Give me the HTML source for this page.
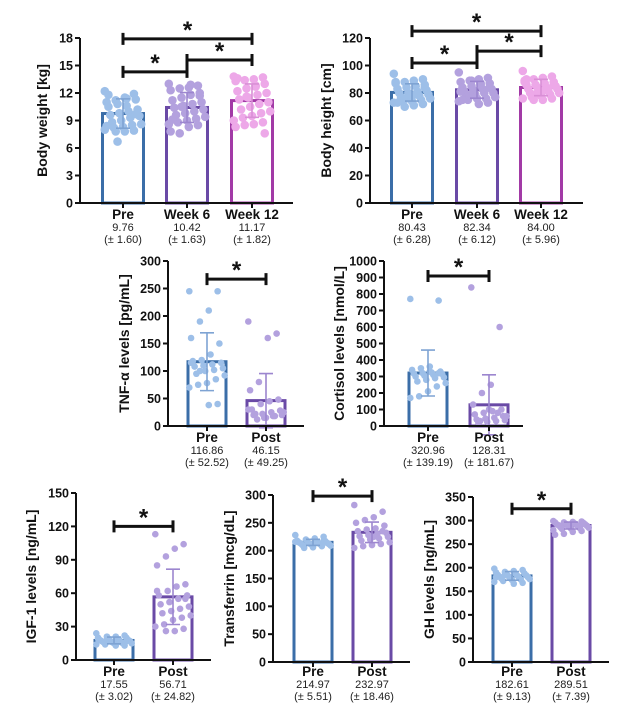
<!DOCTYPE html>
<html><head><meta charset="utf-8">
<style>
html,body{margin:0;padding:0;background:#fff;}
svg{display:block;font-family:"Liberation Sans",Arial,sans-serif;}
</style></head>
<body>
<svg id="fig" width="640" height="719" viewBox="0 0 640 719" xmlns="http://www.w3.org/2000/svg"></svg>
<script>
// ---- data ----
const bwCategories = ["Pre","Week 6","Week 12"];
const bwMeans = [9.76,10.42,11.17];
const bwSD = [1.60,1.63,1.82];
const bwPre = [12.2,11.9,11.5,11.2,11.0,11.3,11.4,10.8,10.5,10.2,10.0,9.8,9.6,9.5,9.3,9.0,8.8,8.6,8.5,8.3,8.2,8.0,7.9,7.8,7.8,8.4,9.7,10.6,6.7,11.8];
const bwW6 = [13.0,12.8,12.6,12.5,12.3,12.0,11.8,11.5,11.2,11.0,10.8,10.6,10.4,10.2,10.0,9.8,9.6,9.4,9.2,9.0,8.8,8.6,8.5,8.3,7.6,7.8,11.7,12.9,10.5,9.1];
const bwW12 = [13.8,13.7,13.5,13.4,13.3,13.0,12.8,12.5,12.2,12.0,11.8,11.5,11.3,11.0,10.8,10.5,10.2,10.0,9.8,9.5,9.3,9.0,8.8,8.6,8.5,8.3,7.6,12.7,11.6,13.6];
const bwTicks = [0,3,6,9,12,15,18];

const bhMeans = [80.43,82.34,84.00];
const bhSD = [6.28,6.12,5.96];
const bhPre = [94,90,89,88,87,86,85,84,83,82,81,80,80,79,78,78,77,76,75,74,74,73,72,71,70,88,84,79,76,73];
const bhW6 = [95,91,90,89,88,87,86,85,84,83,83,82,81,80,80,79,78,77,76,76,75,74,73,72,78,81,84,87,89,75];
const bhW12 = [96,92,91,90,89,88,87,86,86,85,84,84,83,83,82,81,80,80,79,78,77,76,76,75,75,88,86,82,79,90];
const bhTicks = [0,20,40,60,80,100,120];

const ppCategories = ["Pre","Post"];
const tnfMeans = [116.86,46.15];
const tnfSD = [52.52,49.25];
const tnfPre = [245,245,210,190,160,150,130,120,118,115,112,110,108,105,102,100,95,92,85,78,75,70,40,38,100,115];
const tnfPost = [190,168,160,80,65,48,45,40,30,28,25,22,20,20,18,15,22,25,18,15,12,30];
const tnfTicks = [0,50,100,150,200,250,300];

const cortMeans = [320.96,128.31];
const cortSD = [139.19,181.67];
const cortPre = [770,760,360,350,340,330,325,320,318,315,310,305,300,295,290,280,270,260,240,210,180,170,320,330];
const cortPost = [840,600,250,200,130,100,90,80,70,60,50,45,40,35,30,25,20,60,80,100,30];
const cortTicks = [0,100,200,300,400,500,600,700,800,900,1000];

const igfMeans = [17.55,56.71];
const igfSD = [3.02,24.82];
const igfPre = [24,22,21,21,20,20,19,19,18,18,18,17,17,17,16,16,16,15,15,15,14,14,13,13,18,19,17,16];
const igfPost = [113,104,100,93,85,68,66,62,58,58,55,52,50,48,46,44,42,40,38,36,32,30,28,26,26,62,55];
const igfTicks = [0,30,60,90,120,150];

const tfMeans = [214.97,232.97];
const tfSD = [5.51,18.46];
const tfPre = [228,225,222,220,218,217,216,215,215,214,214,213,213,212,212,211,210,209,208,206,205,216,218,214];
const tfPost = [282,270,260,255,250,245,240,238,235,232,230,228,226,225,222,220,218,215,212,210,208,205,235,225];
const tfTicks = [0,50,100,150,200,250,300];

const ghMeans = [182.61,289.51];
const ghSD = [9.13,7.39];
const ghPre = [198,195,193,191,190,188,187,186,185,184,183,182,181,180,179,178,177,176,175,174,172,170,168,166,185,180];
const ghPost = [299,298,297,296,296,295,294,293,292,292,291,290,290,289,288,287,286,285,284,283,282,280,278,276,272,270,293];
const ghTicks = [0,50,100,150,200,250,300,350];

// ---- rendering ----
const NS = "http://www.w3.org/2000/svg";
const svg = document.getElementById("fig");
const STROKES = ["#3b6ea8","#6a4aa6","#a23aa6"];
const DOTS = ["#9dbfe8","#b3a1de","#eda8e8"];
const ERRS = ["#7ea3d3","#9c86cf","#d98fd6"];
function mk(tag, attrs, parent){
  const e = document.createElementNS(NS, tag);
  for (const k in attrs) e.setAttribute(k, attrs[k]);
  (parent||svg).appendChild(e);
  return e;
}
function panel(cfg){
  const g = mk("g", {});
  
  
  const max = cfg.ticks[cfg.ticks.length-1];
  const y = v => cfg.yBot - (v/max)*(cfg.yBot-cfg.yTop);
  const hw = cfg.barW/2;
  cfg.groups.forEach((vals,i)=>{
    const cx = cfg.centers[i];
    const bar = mk("rect",{x:cx-hw,y:y(cfg.means[i]),width:cfg.barW,height:cfg.yBot-y(cfg.means[i]),fill:"#fff",stroke:STROKES[i],"stroke-width":3},g);
    
    
    vals.forEach((v,j)=>{
      const off = (((j*37)%21)-10)/10*(hw-cfg.r+2);
      const d = mk("circle",{cx:cx+off,cy:y(v),r:cfg.r,fill:DOTS[i]},g);
      
      
    });
    const lo=y(cfg.means[i]-cfg.sd[i]), hi=y(cfg.means[i]+cfg.sd[i]);
    const eb = mk("path",{d:`M${cx},${lo}V${hi}M${cx-7},${lo}H${cx+7}M${cx-7},${hi}H${cx+7}`,stroke:ERRS[i],"stroke-width":1.6,fill:"none"},g);
    
    
  });
  const ax = mk("path",{d:`M${cfg.axX},${cfg.yTop}V${cfg.yBot}H${cfg.xEnd}`,stroke:"#111","stroke-width":2,fill:"none"},g);
  
  
  cfg.ticks.forEach(t=>{
    mk("line",{x1:cfg.axX-5,x2:cfg.axX,y1:y(t),y2:y(t),stroke:"#111","stroke-width":2},g);
    const tl = mk("text",{x:cfg.axX-7,y:y(t)+4.5,"text-anchor":"end","font-size":12.5,"font-weight":"bold",fill:"#111"},g);
    tl.textContent = t;
    
    
  });
  cfg.centers.forEach((cx,i)=>{
    mk("line",{x1:cx,x2:cx,y1:cfg.yBot,y2:cfg.yBot+5,stroke:"#111","stroke-width":2},g);
    const c = mk("text",{x:cx,y:cfg.labY+5,"text-anchor":"middle","font-size":13.5,"font-weight":"bold",fill:"#111"},g);
    c.textContent = cfg.cats[i];
    
    
    const m = mk("text",{x:cx,y:cfg.labY+17,"text-anchor":"middle","font-size":11,fill:"#222"},g);
    m.textContent = cfg.means[i].toFixed(2);
    
    
    const s = mk("text",{x:cx,y:cfg.labY+29,"text-anchor":"middle","font-size":11,fill:"#222"},g);
    s.textContent = "(\u00b1 " + cfg.sd[i].toFixed(2) + ")";
    
    
  });
  const midY = (cfg.yTop+cfg.yBot)/2;
  const tt = mk("text",{x:0,y:0,transform:`translate(${cfg.titleX},${midY}) rotate(-90)`,"text-anchor":"middle","font-size":14,"font-weight":"bold",fill:"#111"},g);
  tt.textContent = cfg.title;
  
  
  cfg.brackets.forEach(b=>{
    const x1=cfg.centers[b[0]], x2=cfg.centers[b[1]], by=y(b[2]);
    const br = mk("path",{d:`M${x1},${by}H${x2}M${x1},${by-6}V${by+6}M${x2},${by-6}V${by+6}`,stroke:"#111","stroke-width":3,fill:"none"},g);
    
    
    const st = mk("text",{x:(x1+x2)/2,y:by-1,"text-anchor":"middle","font-size":24,"font-weight":"bold",fill:"#111"},g);
    st.textContent = "*";
    
    
  });
}
panel({name:"body-weight-chart",groups:[bwPre,bwW6,bwW12],means:bwMeans,sd:bwSD,cats:bwCategories,ticks:bwTicks,axX:80,yTop:38,yBot:203,xEnd:293,centers:[123,187,252],barW:41,r:4.3,labY:214,titleX:47,title:"Body weight [kg]",brackets:[[0,2,17.9],[1,2,15.6],[0,1,14.3]]});
panel({name:"body-height-chart",groups:[bhPre,bhW6,bhW12],means:bhMeans,sd:bhSD,cats:bwCategories,ticks:bhTicks,axX:370,yTop:38,yBot:203,xEnd:583,centers:[412,477,541],barW:41,r:4.3,labY:214,titleX:331,title:"Body height [cm]",brackets:[[0,2,125],[1,2,110.5],[0,1,101.8]]});
panel({name:"tnf-alpha-chart",groups:[tnfPre,tnfPost],means:tnfMeans,sd:tnfSD,cats:ppCategories,ticks:tnfTicks,axX:168,yTop:261,yBot:426,xEnd:304,centers:[207,266],barW:38,r:3.3,labY:437,titleX:129,title:"TNF-\u03b1 levels [pg/mL]",brackets:[[0,1,267]]});
panel({name:"cortisol-chart",groups:[cortPre,cortPost],means:cortMeans,sd:cortSD,cats:ppCategories,ticks:cortTicks,axX:384,yTop:261,yBot:426,xEnd:523,centers:[428,489],barW:38,r:3.3,labY:437,titleX:344,title:"Cortisol levels [nmol/L]",brackets:[[0,1,909]]});
panel({name:"igf1-chart",groups:[igfPre,igfPost],means:igfMeans,sd:igfSD,cats:ppCategories,ticks:igfTicks,axX:76,yTop:493,yBot:660,xEnd:211,centers:[114,173],barW:38,r:3.3,labY:671,titleX:36,title:"IGF-1 levels [ng/mL]",brackets:[[0,1,120]]});
panel({name:"transferrin-chart",groups:[tfPre,tfPost],means:tfMeans,sd:tfSD,cats:ppCategories,ticks:tfTicks,axX:273,yTop:495,yBot:662,xEnd:410,centers:[313,372],barW:38,r:3.3,labY:671,titleX:234,title:"Transferrin [mcg/dL]",brackets:[[0,1,298]]});
panel({name:"gh-chart",groups:[ghPre,ghPost],means:ghMeans,sd:ghSD,cats:ppCategories,ticks:ghTicks,axX:473,yTop:497,yBot:662,xEnd:609,centers:[512,571],barW:38,r:3.3,labY:671,titleX:434,title:"GH levels [ng/mL]",brackets:[[0,1,325]]});
</script>
</body></html>
